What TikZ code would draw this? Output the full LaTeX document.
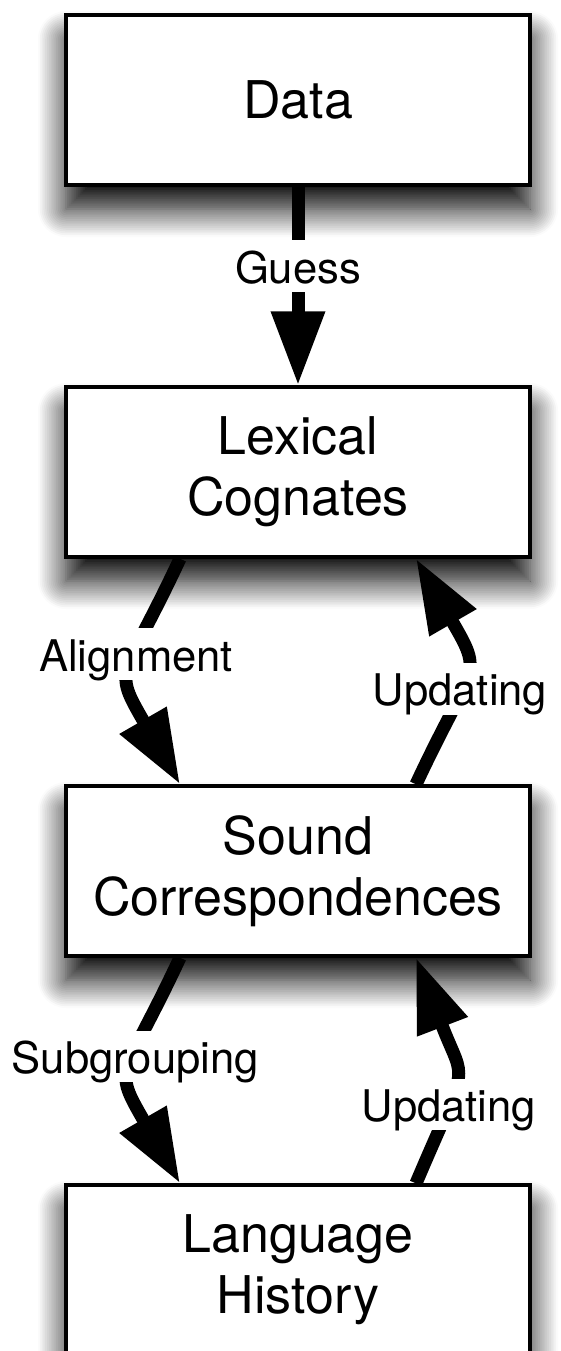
\documentclass[tikz,border=0pt]{standalone}
\usepackage{fontspec}
\setmainfont{TeX Gyre Heros}
\usetikzlibrary{arrows.meta,shadows.blur}

\begin{document}
\begin{tikzpicture}[x=0.5pt, y=0.5pt,
    box/.style={draw, fill=white, line width=1.7pt, minimum width=232pt,
        minimum height=85pt, align=center, inner sep=0pt,
        font=\fontsize{26}{30.5}\selectfont,
        blur shadow={shadow xshift=0pt, shadow yshift=-12pt,
            shadow blur radius=14pt, shadow blur steps=16, shadow opacity=100}},
    lab/.style={fill=white, inner xsep=10pt, inner ysep=0pt,
        text height=21.5pt, text depth=4.3pt,
        font=\fontsize{21.8}{25}\selectfont},
    flow/.style={line width=6.5pt, -{Triangle[width=25.5pt, length=37pt]}}]
        \useasboundingbox (0,0) rectangle (561,-1351);

        % nodes data, lex, snd, hist
        \node[box] (data) at (298,-100) {Data};
        \node[box] (lex) at (298,-472) {Lexical\\Cognates};
        \node[box] (snd) at (298,-871) {Sound\\Correspondences};
        \node[box] (hist) at (298,-1270) {Language\\History};

        % edge guess
        \draw[flow] (data) -- node[lab, pos=0.4] {Guess} (lex);

        % edges lex <-> snd
        \draw[flow] ([xshift=-59pt]lex.south) to[out=245, in=120, looseness=1.56]
            node[lab, pos=0.38] {Alignment} ([xshift=-59pt]snd.north);
        \draw[flow] ([xshift=59pt]snd.north) to[out=65, in=300, looseness=1.56]
            node[lab, pos=0.38] {Updating} ([xshift=59pt]lex.south);

        % edges snd <-> hist
        \draw[flow] ([xshift=-59pt]snd.south) to[out=245, in=120, looseness=1.56]
            node[lab, pos=0.4] {Subgrouping} ([xshift=-59pt]hist.north);
        \draw[flow] ([xshift=59pt]hist.north) to[out=67, in=291, looseness=1.58]
            node[lab, pos=0.29] {Updating} ([xshift=59pt]snd.south);
\end{tikzpicture}
\end{document}
